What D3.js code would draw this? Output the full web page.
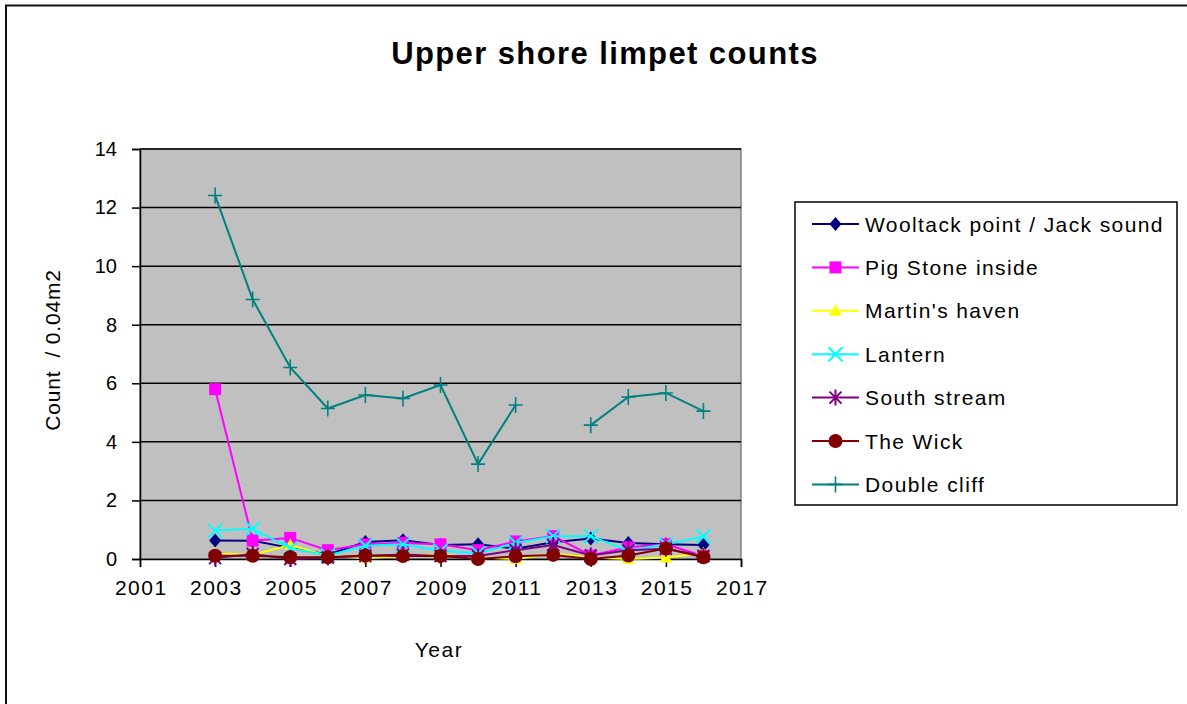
<!DOCTYPE html>
<html><head><meta charset="utf-8">
<script src="https://cdn.jsdelivr.net/npm/d3@7/dist/d3.min.js"></script>
<style>
body{margin:0;background:#fff;}
text{font-family:Arial,"Liberation Sans",sans-serif;}
</style></head>
<body><svg id="c" width="1187" height="704"></svg>
<script>
const years = [2003,2004,2005,2006,2007,2008,2009,2010,2011,2012,2013,2014,2015,2016];
const wooltack = [0.63,0.62,0.38,0.15,0.58,0.64,0.48,0.5,0.35,0.57,0.7,0.55,0.5,0.48];
const pigStone = [5.8,0.63,0.72,0.3,0.5,0.55,0.5,0.3,0.6,0.78,0.12,0.4,0.5,0.1];
const martins = [0.19,0.14,0.48,0.1,0.03,0.1,0.15,0.05,0.0,0.18,0.05,0.0,0.05,0.2];
const lantern = [0.97,1.03,0.37,0.12,0.45,0.5,0.28,0.2,0.55,0.78,0.78,0.28,0.5,0.77];
const southStream = [0.03,0.17,0.0,0.05,0.1,0.15,0.1,0.1,0.3,0.48,0.12,0.3,0.35,0.1];
const theWick = [0.11,0.11,0.06,0.06,0.12,0.1,0.1,0.0,0.09,0.14,0.0,0.12,0.36,0.06];
const doubleCliff = [12.41,8.86,6.54,5.14,5.6,5.48,5.94,3.24,5.26,null,4.57,5.53,5.67,5.05];
const seriesNames = ["Wooltack point / Jack sound","Pig Stone inside","Martin's haven","Lantern","South stream","The Wick","Double cliff"];
const xTicks = [2001,2003,2005,2007,2009,2011,2013,2015,2017];
const yTicks = [0,2,4,6,8,10,12,14];

const seriesValues = [wooltack,pigStone,martins,lantern,southStream,theWick,doubleCliff];
const colors = ["#000080","#FF00FF","#FFFF00","#00FFFF","#800080","#800000","#008080"];
const markers = ["diamond","square","triangle","x","star","circle","plus"];

const svg = d3.select("#c");
const W=1187,H=704;
svg.append("rect").attr("x",0).attr("y",0).attr("width",W).attr("height",H).attr("fill","#fff");
svg.append("rect").attr("x",6).attr("y",5.5).attr("width",1300).attr("height",800)
  .attr("fill","none").attr("stroke","#111").attr("stroke-width",2);

const L=140,R=741,T=149,B=559;
const x = d3.scaleLinear().domain([2001,2017]).range([L,R]);
const y = d3.scaleLinear().domain([0,14]).range([B,T]);

svg.append("rect").attr("x",L).attr("y",T).attr("width",R-L).attr("height",B-T)
  .attr("fill","#C0C0C0").attr("stroke","#808080").attr("stroke-width",1.5);

// gridlines
svg.append("g").selectAll("line").data(yTicks.filter(d=>d>0)).join("line")
  .attr("x1",L).attr("x2",R).attr("y1",d=>y(d)).attr("y2",d=>y(d))
  .attr("stroke","#000").attr("stroke-width",1.5);

// axes
const xAxis = svg.append("g").attr("transform",`translate(0,${B})`)
  .call(d3.axisBottom(x).tickValues(xTicks).tickFormat(d3.format("d")).tickSize(8).tickPadding(13));
const yAxis = svg.append("g").attr("transform",`translate(${L},0)`)
  .call(d3.axisLeft(y).tickValues(yTicks).tickSize(8).tickPadding(15));
[xAxis,yAxis].forEach(a=>{
  a.select(".domain").attr("stroke","#000").attr("stroke-width",1.5);
  a.selectAll(".tick line").attr("stroke","#000").attr("stroke-width",1.5);
  a.selectAll(".tick text").attr("font-size",20).attr("fill","#000")
    .style("font-family","Arial, 'Liberation Sans', sans-serif");
});
xAxis.selectAll(".tick text").attr("font-size",21).attr("letter-spacing",1.5).attr("dx",0.75);

// markers
function drawMarker(g,type,color,cx,cy){
  const s = g.append("g").attr("transform",`translate(${cx},${cy})`);
  if(type==="diamond"){
    s.append("path").attr("d","M0,-7L6,0L0,7L-6,0Z").attr("fill",color);
  } else if(type==="square"){
    s.append("rect").attr("x",-6).attr("y",-6).attr("width",12).attr("height",12).attr("fill",color);
  } else if(type==="triangle"){
    s.append("path").attr("d","M0,-6.5L6.5,5L-6.5,5Z").attr("fill",color);
  } else if(type==="x"){
    s.append("path").attr("d","M-7,-7L7,7M-7,7L7,-7").attr("stroke",color).attr("stroke-width",2);
  } else if(type==="star"){
    s.append("path").attr("d","M-6,-6L6,6M-6,6L6,-6M0,-8L0,8").attr("stroke",color).attr("stroke-width",2);
  } else if(type==="circle"){
    s.append("circle").attr("r",7).attr("fill",color);
  } else if(type==="plus"){
    s.append("path").attr("d","M-7,0L7,0M0,-8L0,8").attr("stroke",color).attr("stroke-width",1.6);
  }
}

const line = d3.line().defined(d=>d[1]!=null).x(d=>x(d[0])).y(d=>y(d[1]));
seriesValues.forEach((vals,i)=>{
  const pts = years.map((yr,j)=>[yr,vals[j]]);
  const g = svg.append("g");
  g.append("path").datum(pts).attr("d",line).attr("fill","none")
    .attr("stroke",colors[i]).attr("stroke-width",2);
  pts.filter(p=>p[1]!=null).forEach(p=>drawMarker(g,markers[i],colors[i],x(p[0]),y(p[1])));
});

// title & labels
svg.append("text").attr("x",605).attr("y",64).attr("text-anchor","middle")
  .attr("font-size",31).attr("font-weight","bold").attr("letter-spacing",1.4).text("Upper shore limpet counts");
svg.append("text").attr("x",439).attr("y",657).attr("text-anchor","middle")
  .attr("font-size",21).attr("letter-spacing",1.5).text("Year");
svg.append("text").attr("transform","translate(60,350) rotate(-90)").attr("text-anchor","middle")
  .attr("font-size",21).attr("letter-spacing",0.8).style("white-space","pre").text("Count  / 0.04m2");

// legend
const lg = svg.append("g");
lg.append("rect").attr("x",795).attr("y",202).attr("width",382).attr("height",303)
  .attr("fill","#fff").attr("stroke","#000").attr("stroke-width",1.5);
seriesNames.forEach((n,i)=>{
  const yy = 224 + i*43.4;
  lg.append("line").attr("x1",812).attr("x2",859).attr("y1",yy).attr("y2",yy)
    .attr("stroke",colors[i]).attr("stroke-width",2);
  drawMarker(lg,markers[i],colors[i],835.5,yy);
  lg.append("text").attr("x",865).attr("y",yy+7.5).attr("font-size",21).attr("letter-spacing",1.4).text(n);
});
</script></body></html>
